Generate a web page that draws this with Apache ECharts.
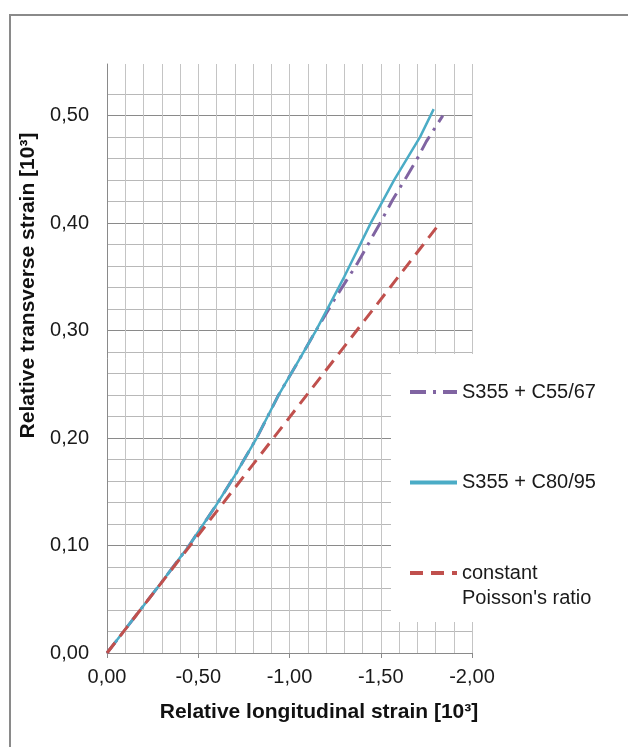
<!DOCTYPE html>
<html>
<head>
<meta charset="utf-8">
<title>Relative transverse vs longitudinal strain</title>
<script src="https://cdn.jsdelivr.net/npm/echarts@6/dist/echarts.min.js"></script>
<style>
html, body { margin: 0; padding: 0; background: #fff; }
#main { width: 628px; height: 747px; }
</style>
</head>
<body>
<div id="main"></div>
<script>
// values (strain in 10^3)
var nameC55 = 'S355 + C55/67';
var nameC80 = 'S355 + C80/95';
var namePoisson = "constant Poisson's ratio";

var longC80 = [0, -0.10, -0.20, -0.30, -0.45, -0.60, -0.70, -0.82, -0.94, -1.05, -1.145, -1.30, -1.445, -1.573, -1.715, -1.79];
var transC80 = [0, 0.022, 0.044, 0.066, 0.100, 0.138, 0.165, 0.200, 0.240, 0.272, 0.300, 0.350, 0.400, 0.440, 0.480, 0.506];

var longC55 = [0, -0.10, -0.20, -0.30, -0.45, -0.60, -0.70, -0.82, -0.94, -1.05, -1.145, -1.25, -1.37, -1.49, -1.563, -1.645, -1.70, -1.75, -1.84];
var transC55 = [0, 0.022, 0.044, 0.066, 0.100, 0.138, 0.165, 0.200, 0.240, 0.272, 0.300, 0.330, 0.362, 0.398, 0.421, 0.444, 0.460, 0.476, 0.500];

var longPoisson = [0, -1.806];
var transPoisson = [0, 0.396];

var xTicks = [0, -0.5, -1.0, -1.5, -2.0];
var yTicks = [0, 0.1, 0.2, 0.3, 0.4, 0.5];

function pairs(xs, ys) {
    var out = [];
    for (var i = 0; i < xs.length; i++) {
        out.push([xs[i], ys[i]]);
    }
    return out;
}

function comma(v) {
    return v.toFixed(2).replace('.', ',');
}

var fontName = "'Liberation Sans', Arial, sans-serif";

// horizontal grid: darker every 0.10, none at the very top
var hLineColors = [];
for (var i = 0; i < 28; i++) {
    if (i === 27) hLineColors.push('rgba(0,0,0,0)');
    else if (i % 5 === 0) hLineColors.push('#8a8a8a');
    else hLineColors.push('#b8b8b8');
}

var myChart = echarts.init(document.getElementById('main'));

var option = {
    animation: false,
    backgroundColor: '#fff',
    textStyle: { fontFamily: fontName },
    grid: { left: 107, right: 156, top: 64, bottom: 94 },
    xAxis: {
        type: 'value',
        min: -2,
        max: 0,
        interval: 0.5,
        inverse: true,
        name: 'Relative longitudinal strain [10³]',
        nameLocation: 'middle',
        nameGap: 49,
        nameTextStyle: { fontSize: 21, fontWeight: 'bold', color: '#111', fontFamily: fontName, padding: [0, 0, 0, 59] },
        axisLine: { lineStyle: { color: '#8a8a8a', width: 1 } },
        axisTick: { show: true, length: 5, lineStyle: { color: '#8a8a8a' } },
        axisLabel: {
            fontSize: 20, color: '#1a1a1a', margin: 14, fontFamily: fontName,
            formatter: function (v) {
                return xTicks.indexOf(v) >= 0 ? comma(v) : '';
            }
        },
        splitLine: { show: true, lineStyle: { color: '#c4c4c4', width: 1 } },
        minorTick: { show: false, splitNumber: 5 },
        minorSplitLine: { show: true, lineStyle: { color: '#c4c4c4', width: 1 } }
    },
    yAxis: {
        type: 'value',
        min: 0,
        max: 0.548,
        interval: 0.02,
        name: 'Relative transverse strain [10³]',
        nameLocation: 'middle',
        nameRotate: 90,
        nameGap: 62,
        nameTextStyle: { fontSize: 21, fontWeight: 'bold', color: '#111', fontFamily: fontName, padding: [0, 0, 0, 146] },
        axisLine: { show: true, lineStyle: { color: '#8a8a8a', width: 1 } },
        axisTick: { show: false },
        axisLabel: {
            fontSize: 20, color: '#1a1a1a', margin: 18, fontFamily: fontName,
            showMaxLabel: false,
            formatter: function (v) {
                var r = Math.round(v * 100);
                return (r % 10 === 0 && yTicks.indexOf(r / 100) >= 0) ? comma(v) : '';
            }
        },
        splitLine: { show: true, showMaxLine: false, lineStyle: { color: hLineColors, width: 1 } }
    },
    legend: {
        orient: 'vertical',
        left: 391,
        top: 354,
        padding: [25.5, 40, 36.5, 17],
        backgroundColor: '#fff',
        itemWidth: 47,
        itemHeight: 14,
        itemGap: 65.5,
        data: [nameC55, nameC80, namePoisson],
        itemStyle: { color: 'rgba(0,0,0,0)', borderColor: 'rgba(0,0,0,0)', borderWidth: 0, opacity: 0 },
        lineStyle: { width: 4 },
        textStyle: { fontSize: 20, lineHeight: 25, color: '#1a1a1a', fontFamily: fontName },
        formatter: function (name) {
            return name === namePoisson ? 'constant' : name;
        }
    },
    graphic: [
        {
            type: 'rect',
            z: 0,
            silent: true,
            shape: { x: 10, y: 15, width: 660, height: 760 },
            style: { fill: 'none', stroke: '#8a8a8a', lineWidth: 2 }
        },
        {
            type: 'text',
            z: 10,
            left: 462,
            top: 588,
            style: { text: "Poisson's ratio", fontSize: 20, fill: '#1a1a1a', fontFamily: fontName }
        }
    ],
    series: [
        {
            name: nameC55,
            type: 'line',
            symbol: 'none',
            data: pairs(longC55, transC55),
            lineStyle: { color: '#8064a2', width: 3, type: [16, 7, 3, 7] },
            itemStyle: { color: '#8064a2' }
        },
        {
            name: nameC80,
            type: 'line',
            symbol: 'none',
            data: pairs(longC80, transC80),
            lineStyle: { color: '#4bacc6', width: 2.5 },
            itemStyle: { color: '#4bacc6' }
        },
        {
            name: namePoisson,
            type: 'line',
            symbol: 'none',
            data: pairs(longPoisson, transPoisson),
            lineStyle: { color: '#c0504d', width: 3, type: [13, 8] },
            itemStyle: { color: '#c0504d' }
        }
    ]
};

myChart.setOption(option);
</script>
</body>
</html>
